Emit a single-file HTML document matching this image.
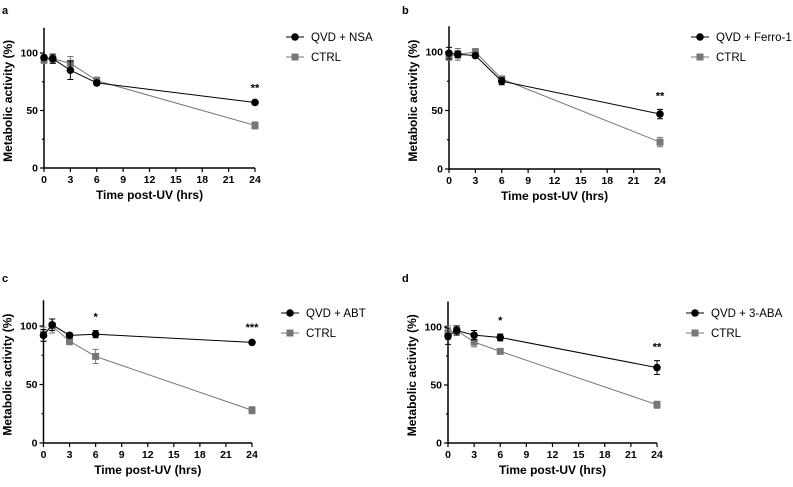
<!DOCTYPE html>
<html><head><meta charset="utf-8"><style>
body{margin:0;background:#fff;width:793px;height:482px;overflow:hidden}
svg text{font-family:"Liberation Sans",Arial,sans-serif}
</style></head><body>
<svg id="fig" width="793" height="482" viewBox="0 0 793 482"></svg>
<script>
const times=[0,1,3,6,24];
const xTicks=[0,3,6,9,12,15,18,21,24];
const yTicks=[0,50,100];
const aQvd=[96,95,85,74,57], aQvdErr=[2,4,8,2,1];
const aCtrl=[94,95,91,76,37], aCtrlErr=[3,3,6,3,3];
const bQvd=[99,98,97,75,47], bQvdErr=[5,3,2,3,4];
const bCtrl=[96,98,100,77,23], bCtrlErr=[3,5,3,2,4];
const cQvd=[92,101,92,93,86], cQvdErr=[5,5,2,3,1];
const cCtrl=[93,100,87,74,28], cCtrlErr=[6,6,3,6,3];
const dQvd=[92,97,93,91,65], dQvdErr=[7,4,4,3,6];
const dCtrl=[95,97,87,79,33], dCtrlErr=[6,3,4,1,3];
const aStars=[[24,"**"]], bStars=[[24,"**"]], cStars=[[6,"*"],[24,"***"]], dStars=[[6,"*"],[24,"**"]];
const panels=[
 {id:'a',lab:'QVD + NSA',x0:44,x1:255,y0:168,y100:53,lx:2,ly:14,leg:[295,37],q:aQvd,qe:aQvdErr,c:aCtrl,ce:aCtrlErr,st:aStars},
 {id:'b',lab:'QVD + Ferro-1',x0:449,x1:660,y0:169,y100:52,lx:402,ly:14,leg:[300,37],q:bQvd,qe:bQvdErr,c:bCtrl,ce:bCtrlErr,st:bStars},
 {id:'c',lab:'QVD + ABT',x0:43.5,x1:252,y0:443,y100:326,lx:2,ly:282,leg:[290,313],q:cQvd,qe:cQvdErr,c:cCtrl,ce:cCtrlErr,st:cStars},
 {id:'d',lab:'QVD + 3-ABA',x0:448,x1:657,y0:443,y100:327,lx:402,ly:282,leg:[295,313],q:dQvd,qe:dQvdErr,c:dCtrl,ce:dCtrlErr,st:dStars}
];
const svg=document.getElementById('fig');
const NS='http://www.w3.org/2000/svg';
function mk(t,a,p){const e=document.createElementNS(NS,t);for(const k in a)e.setAttribute(k,a[k]);(p||svg).appendChild(e);return e;}
panels.forEach(P=>{
 const g=mk('g',{});
 
 
 const X=v=>P.x0+(P.x1-P.x0)*v/24;
 const Y=v=>P.y0-(P.y0-P.y100)*v/100;
 const lt=mk('text',{x:P.lx,y:P.ly,'font-size':11,'font-weight':'bold'},g);lt.textContent=P.id;
 
 
 const top=Y(122);
 const ax=mk('path',{d:`M${P.x0},${top}V${P.y0}H${P.x1}`,stroke:'#000','stroke-width':1.5,fill:'none'},g);
 
 
 [0,25,50,75,100].forEach(v=>{mk('line',{x1:P.x0-(v%50?2:4),x2:P.x0,y1:Y(v),y2:Y(v),stroke:'#000','stroke-width':1.2},g);});
 yTicks.forEach(v=>{const t=mk('text',{x:P.x0-6,y:Y(v)+3.5,'font-size':10.5,'font-weight':'bold','text-anchor':'end'},g);t.textContent=v;
  
  });
 xTicks.forEach(v=>{mk('line',{x1:X(v),x2:X(v),y1:P.y0,y2:P.y0+4,stroke:'#000','stroke-width':1.2},g);
  const t=mk('text',{x:X(v),y:P.y0+15,'font-size':10.5,'font-weight':'bold','text-anchor':'middle'},g);t.textContent=v;
  
  });
 const xt=mk('text',{x:(P.x0+P.x1)/2,y:P.y0+31,'font-size':12,'font-weight':'bold','text-anchor':'middle'},g);xt.textContent='Time post-UV (hrs)';
 
 
 const yt=mk('text',{x:0,y:0,'font-size':12,'font-weight':'bold','text-anchor':'middle',transform:`translate(${P.x0-32},${(P.y0+top)/2+3}) rotate(-90)`},g);yt.textContent='Metabolic activity (%)';
 
 
 function series(vals,errs,col,sq,name){
  const sg=mk('g',{},g);
  
  
  mk('polyline',{points:times.map((t,i)=>X(t)+','+Y(vals[i])).join(' '),fill:'none',stroke:col,'stroke-width':1},sg);
  times.forEach((t,i)=>{const x=X(t),y1=Y(vals[i]+errs[i]),y2=Y(vals[i]-errs[i]);
   mk('path',{d:`M${x},${y1}V${y2}M${x-3},${y1}h6M${x-3},${y2}h6`,stroke:col,'stroke-width':1,fill:'none'},sg);
   if(sq)mk('rect',{x:x-3.5,y:Y(vals[i])-3.5,width:7,height:7,fill:col},sg);
   else mk('circle',{cx:x,cy:Y(vals[i]),r:3.8,fill:col},sg);});
 }
 series(P.c,P.ce,'#777',true,'ctrl-series');
 series(P.q,P.qe,'#000',false,'qvd-series');
 P.st.forEach(s=>{const i=times.indexOf(s[0]);const hi=Math.max(P.q[i]+P.qe[i],P.c[i]+P.ce[i]);
  const t=mk('text',{x:X(s[0]),y:Y(hi)-10,'font-size':11,'font-weight':'bold','text-anchor':'middle'},g);t.textContent=s[1];
  
  });
 const lx=(P.id==='b'||P.id==='d')?400+P.leg[0]:P.leg[0], ly=P.leg[1];
 [[P.lab,'#000',false],['CTRL','#777',true]].forEach((L,k)=>{
  const eg=mk('g',{},g);
  
  
  const y=ly+k*20;
  mk('line',{x1:lx-9,x2:lx+9,y1:y,y2:y,stroke:L[1],'stroke-width':1},eg);
  if(L[2])mk('rect',{x:lx-3.5,y:y-3.5,width:7,height:7,fill:L[1]},eg);else mk('circle',{cx:lx,cy:y,r:3.8,fill:L[1]},eg);
  const t=mk('text',{x:lx+16,y:y+4,'font-size':11.5},eg);t.textContent=L[0];
 });
});
</script>
</body></html>
